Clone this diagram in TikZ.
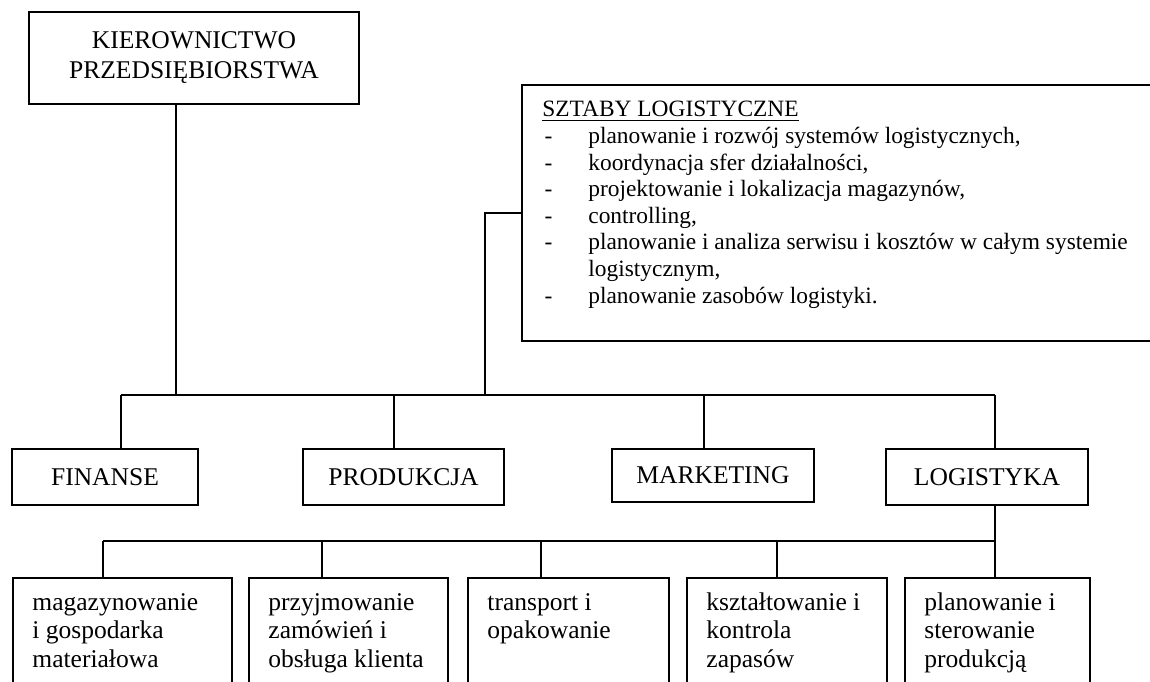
\documentclass[tikz,border=0pt]{standalone}
\usepackage{fontspec}
\setmainfont{Liberation Serif}
\usepackage{tikz}
\usetikzlibrary{positioning}
\def\pxu{0.47pt}
\tikzset{
  unit/.style   = {draw, line width=0.8pt, inner sep=0pt, align=center,
                   minimum height=56*\pxu, font=\fontsize{12}{14.1}\selectfont},
  dzial/.style  = {draw, line width=0.8pt, inner sep=0pt, anchor=north west,
                   minimum height=130*\pxu},
  opis/.style   = {anchor=base west, inner sep=0pt,
                   font=\fontsize{12}{13.4}\selectfont},
  conn/.style   = {line width=0.8pt}
}

\begin{document}
\begin{tikzpicture}[x=0.47pt, y=-0.47pt]
  \useasboundingbox (0,0) rectangle (1150,682);
  \clip (0,0) rectangle (1150,682);
  % top of the firm
  \node[unit, minimum width=330*\pxu, minimum height=92*\pxu] (kier) at (194,58)
       {KIEROWNICTWO\\PRZEDSIĘBIORSTWA};
  \node[unit, minimum width=648*\pxu, minimum height=256*\pxu] (sztaby) at (846,213) {};
  \node[anchor=base west, inner sep=0pt, font=\fontsize{11}{12.5}\selectfont]
       (sztabytxt) at (542,117)
       {\begin{tabular}[t]{@{}p{21.6pt}@{}l@{}}
         \multicolumn{2}{@{}l@{}}{\underline{SZTABY LOGISTYCZNE}}\\
         \hspace{1pt}- & planowanie i rozwój systemów logistycznych,\\
         \hspace{1pt}- & koordynacja sfer działalności,\\
         \hspace{1pt}- & projektowanie i lokalizacja magazynów,\\
         \hspace{1pt}- & controlling,\\
         \hspace{1pt}- & planowanie i analiza serwisu i kosztów w całym systemie\\
                       & logistycznym,\\
         \hspace{1pt}- & planowanie zasobów logistyki.
        \end{tabular}};
  % departments
  \node[unit, minimum width=186*\pxu] (finanse) at (105,477) {FINANSE};
  \node[unit, minimum width=201*\pxu] (produkcja) at (403.5,477) {PRODUKCJA};
  \node[unit, minimum width=202*\pxu, minimum height=53*\pxu] (marketing) at (713,475.5) {MARKETING};
  \node[unit, minimum width=202*\pxu] (logistyka) at (987,477) {LOGISTYKA};
  % logistics tasks
  \foreach \n/\x/\w/\t in {1/12/219/{magazynowanie\\i gospodarka\\materiałowa},
                           2/248/199/{przyjmowanie\\zamówień i\\obsługa klienta},
                           3/467/201/{transport i\\opakowanie},
                           4/686/200/{kształtowanie i\\kontrola\\zapasów},
                           5/904/185/{planowanie i\\sterowanie\\produkcją}}{
    \node[dzial, minimum width=\w*\pxu] (d\n) at (\x,577) {};
    \node[opis] (t\n) at ([shift={(20,33)}]d\n.north west)
         {\begin{tabular}[t]{@{}l@{}}\t\end{tabular}};
  }
  % connectors
  \coordinate (bus1) at (121,395);
  \coordinate (bus2) at (995,395);
  \draw[conn] (kier.south -| 176,0) -- (bus1 -| 176,0);
  \draw[conn] (bus1) -- (bus2);
  \draw[conn] (sztaby.west) -| (bus1 -| 485,0);
  \foreach \n/\x in {finanse/121, produkcja/394, marketing/704, logistyka/995}
    \draw[conn] (\n.north -| \x,0) -- (bus1 -| \x,0);
  \coordinate (lbus1) at (103,541);
  \coordinate (lbus2) at (995,541);
  \draw[conn] (lbus1) -- (lbus2);
  \draw[conn] (logistyka.south -| lbus2) -- (d5.north -| lbus2);
  \foreach \n/\x in {1/103, 2/322, 3/541, 4/777}
    \draw[conn] (lbus1 -| \x,0) -- (d\n.north -| \x,0);
\end{tikzpicture}
\end{document}
